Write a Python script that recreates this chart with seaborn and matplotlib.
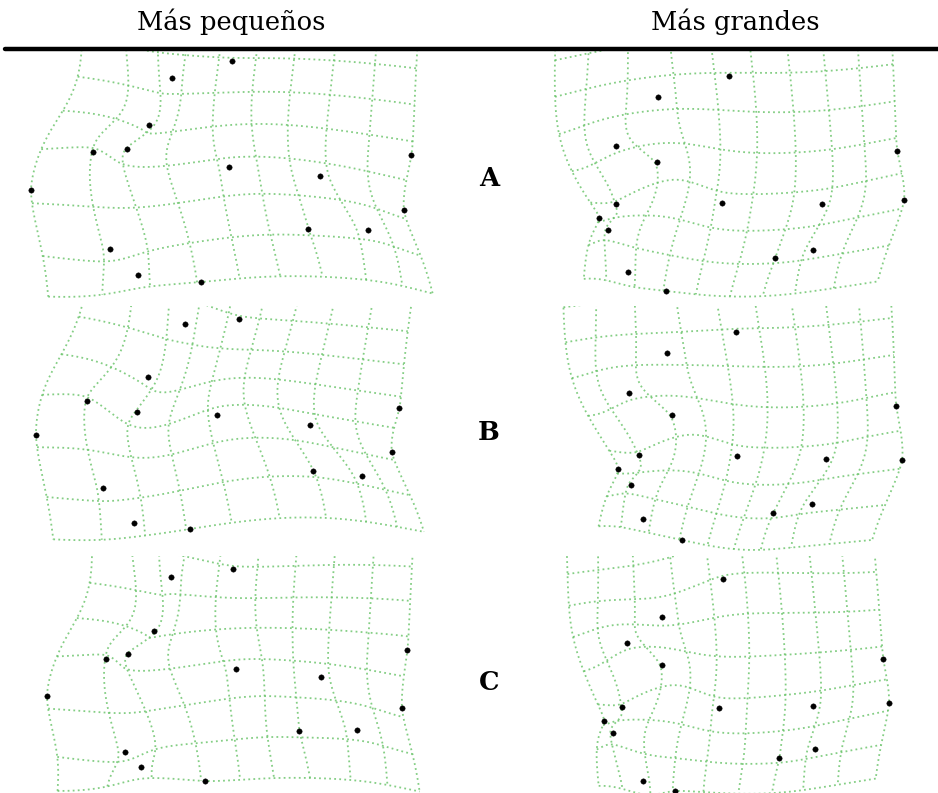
import numpy as np
import pandas as pd
import matplotlib
matplotlib.use("Agg")
import matplotlib.pyplot as plt
import seaborn as sns

sns.set_theme(style="white")
plt.rcParams["font.family"] = ["DejaVu Serif"]
plt.rcParams["text.color"] = "black"

# ---- text -------------------------------------------------------------
column_titles = ["Más pequeños", "Más grandes"]
row_labels = ["A", "B", "C"]

# ---- landmark configurations (pixel coordinates, y downwards) ----------
# same 15 landmarks, same order, in every configuration
a_small_x = [232, 172, 149, 127, 93, 31, 229, 320, 411, 404, 308, 368, 110, 138, 201]
a_small_y = [61, 78, 125, 149, 152, 190, 167, 176, 155, 210, 229, 230, 249, 275, 282]
a_large_x = [729, 658, 616, 657, 616, 599, 722, 822, 897, 904, 775, 813, 608, 628, 666]
a_large_y = [76, 97, 146, 162, 204, 218, 203, 204, 151, 200, 258, 250, 230, 272, 291]

b_small_x = [239, 185, 148, 137, 87, 36, 217, 310, 399, 392, 313, 362, 103, 134, 190]
b_small_y = [319, 324, 377, 412, 401, 435, 415, 425, 408, 452, 471, 476, 488, 523, 529]
b_large_x = [736, 667, 629, 672, 639, 618, 737, 826, 896, 902, 773, 812, 631, 643, 682]
b_large_y = [332, 353, 393, 415, 455, 469, 456, 459, 406, 460, 513, 504, 485, 519, 540]

c_small_x = [233, 171, 154, 128, 106, 47, 236, 321, 407, 402, 299, 357, 125, 141, 205]
c_small_y = [569, 577, 631, 654, 659, 696, 669, 677, 650, 708, 731, 730, 752, 767, 781]
c_large_x = [723, 662, 627, 662, 622, 604, 719, 813, 883, 889, 779, 815, 613, 643, 675]
c_large_y = [579, 617, 643, 665, 707, 721, 708, 706, 659, 703, 758, 749, 733, 781, 791]

panels = [
    ("A", 0, a_small_x, a_small_y), ("A", 1, a_large_x, a_large_y),
    ("B", 0, b_small_x, b_small_y), ("B", 1, b_large_x, b_large_y),
    ("C", 0, c_small_x, c_small_y), ("C", 1, c_large_x, c_large_y),
]

# panel frames in figure pixels: (x0, x1, y0, y1)
row_frames = {"A": (51, 302), "B": (306, 553), "C": (556, 793)}
col_frames = [(0, 460), (540, 938)]

W, H = 938, 793
GRID_COLOR = "#66c266"


def tps_kernel(r):
    out = np.zeros_like(r)
    m = r > 0
    out[m] = r[m] ** 2 * np.log(r[m])
    return out


def tps_map(src, dst, pts):
    n = len(src)
    K = tps_kernel(np.linalg.norm(src[:, None] - src[None], axis=2))
    P = np.hstack([np.ones((n, 1)), src])
    L = np.zeros((n + 3, n + 3))
    L[:n, :n] = K
    L[:n, n:] = P
    L[n:, :n] = P.T
    rhs = np.zeros((n + 3, 2))
    rhs[:n] = dst
    coef = np.linalg.solve(L, rhs)
    Kp = tps_kernel(np.linalg.norm(pts[:, None] - src[None], axis=2))
    Pp = np.hstack([np.ones((len(pts), 1)), pts])
    return Kp @ coef[:n] + Pp @ coef[n:]


# consensus shape: mean of centred, size-normalised configurations
configs = [np.column_stack([x, y]).astype(float) for _, _, x, y in panels]
normed = []
for c in configs:
    cc = c - c.mean(axis=0)
    normed.append(cc / np.sqrt((cc ** 2).sum()))
consensus = np.mean(normed, axis=0)

fig = plt.figure(figsize=(W / 100, H / 100), dpi=100)

for (row, col, xs, ys), cfg in zip(panels, configs):
    y0, y1 = row_frames[row]
    x0, x1 = col_frames[col]
    ax = fig.add_axes([x0 / W, 1 - y1 / H, (x1 - x0) / W, (y1 - y0) / H])
    ax.set_xlim(x0, x1)
    ax.set_ylim(y1, y0)
    ax.axis("off")

    # consensus scaled and placed onto this configuration
    centre = cfg.mean(axis=0)
    cen = cfg - centre
    s = (consensus * cen).sum() / (consensus ** 2).sum()
    ref = consensus * s + centre

    # regular grid around the reference, 9 columns wide, square cells
    gx0, gx1 = ref[:, 0].min(), ref[:, 0].max()
    step = (gx1 - gx0) / 9
    gy1 = ref[:, 1].max()
    vx = gx0 + step * np.arange(10)
    hy = gy1 - step * np.arange(9)
    gy0 = hy[-1]

    t = np.linspace(0, 1, 160)
    rows = []
    lid = 0
    for v in vx:
        pts = np.column_stack([np.full_like(t, v), gy0 + (gy1 - gy0) * t])
        w = tps_map(ref, cfg, pts)
        rows.append(pd.DataFrame({"x": w[:, 0], "y": w[:, 1], "line": lid}))
        lid += 1
    for h in hy:
        pts = np.column_stack([gx0 + (gx1 - gx0) * t, np.full_like(t, h)])
        w = tps_map(ref, cfg, pts)
        rows.append(pd.DataFrame({"x": w[:, 0], "y": w[:, 1], "line": lid}))
        lid += 1
    grid = pd.concat(rows, ignore_index=True)

    sns.lineplot(data=grid, x="x", y="y", units="line", estimator=None,
                 sort=False, color=GRID_COLOR, lw=1.3, alpha=0.8,
                 linestyle=(0, (1, 1.8)), legend=False, ax=ax)
    lm = pd.DataFrame({"x": xs, "y": ys})
    sns.scatterplot(data=lm, x="x", y="y", color="black", s=15,
                    edgecolor="black", linewidth=0.3, zorder=5, ax=ax)
    ax.set_xlim(x0, x1)
    ax.set_ylim(y1, y0)
    ax.set_xlabel("")
    ax.set_ylabel("")

# headers, rule and row letters on an overlay in pixel units
top = fig.add_axes([0, 0, 1, 1], facecolor="none")
top.set_xlim(0, W)
top.set_ylim(H, 0)
top.axis("off")
top.axhline(49, xmin=5 / W, xmax=1, color="black", lw=3.2)
for xc, title in zip([231, 735], column_titles):
    top.text(xc, 30, title, ha="center", va="baseline", fontsize=18.5,
             color="black", family=["DejaVu Serif"])
for yc, lab in zip([179, 432, 682], row_labels):
    top.text(489, yc, lab, ha="center", va="center", fontsize=18.5,
             fontweight="bold", color="black", family=["DejaVu Serif"])

fig.savefig("out.png", dpi=100)
